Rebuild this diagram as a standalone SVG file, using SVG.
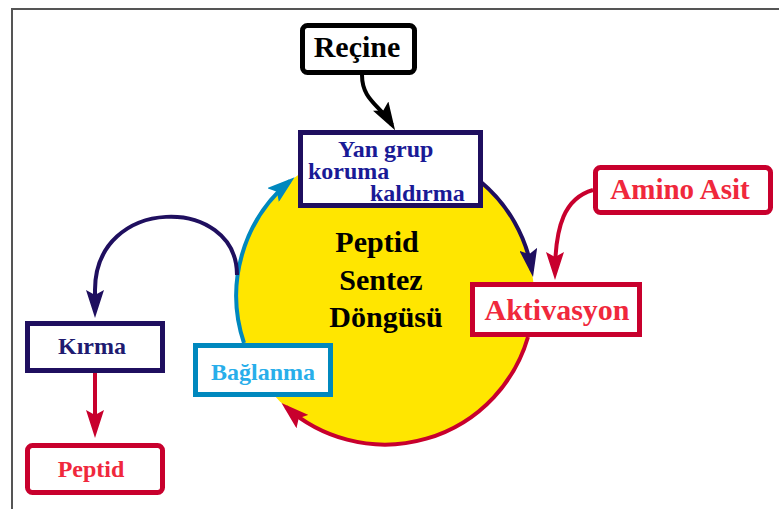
<svg xmlns="http://www.w3.org/2000/svg" width="779" height="509" viewBox="0 0 779 509">
<style>
text{font-family:"Liberation Serif","Times New Roman",serif;font-weight:bold}
.box{fill:#fff;stroke-width:5}
.navy{stroke:#1F0F5F}
.red{stroke:#C8002D}
.cyan{stroke:#0088BE}
.blk{stroke:#000}
.c{fill:none;stroke-width:4}
.mid{text-anchor:middle}
</style>
<defs>
<marker id="aN" markerUnits="userSpaceOnUse" markerWidth="28" markerHeight="18" refX="22" refY="9" orient="auto"><path d="M0,0 L28,9 L0,18 L5,9 z" fill="#1F0F5F"/></marker>
<marker id="aR" markerUnits="userSpaceOnUse" markerWidth="28" markerHeight="18" refX="22" refY="9" orient="auto"><path d="M0,0 L28,9 L0,18 L5,9 z" fill="#C8002D"/></marker>
<marker id="aC" markerUnits="userSpaceOnUse" markerWidth="28" markerHeight="18" refX="22" refY="9" orient="auto"><path d="M0,0 L28,9 L0,18 L5,9 z" fill="#0088BE"/></marker>
<marker id="aK" markerUnits="userSpaceOnUse" markerWidth="28" markerHeight="18" refX="22" refY="9" orient="auto"><path d="M0,0 L28,9 L0,18 L5,9 z" fill="#000"/></marker>
</defs>
<path d="M12,509 V9 H779" fill="none" stroke="#555" stroke-width="2"/>
<g id="cycle">
<circle cx="385" cy="296" r="149" fill="#FFE600"/>
<text x="377" y="252" class="mid" font-size="30" fill="#000">Peptid</text>
<text x="381" y="290" class="mid" font-size="30" fill="#000">Sentez</text>
<text x="386" y="327" class="mid" font-size="30" fill="#000">Döngüsü</text>
</g>
<g id="connectors">
<path class="c blk" stroke-width="5" d="M362,75 C362,100 380,105 392,125" marker-end="url(#aK)"/>
<path class="c navy" d="M481,182 A149,149 0 0 1 532,271" marker-end="url(#aN)"/>
<path class="c red" d="M593,190 C565,198 555,225 555,274" marker-end="url(#aR)"/>
<path class="c red" d="M528,337 A149,149 0 0 1 286,407" marker-end="url(#aR)"/>
<path class="c cyan" d="M244,343 A149,149 0 0 1 290,181" marker-end="url(#aC)"/>
<path class="c navy" d="M237,275 C237,195 95,195 95,290 L95,312" marker-end="url(#aN)"/>
<path class="c red" d="M95,373 L95,432" marker-end="url(#aR)"/>
</g>
<g id="recine">
<rect class="box blk" x="302.5" y="25.5" width="112" height="47" rx="5"/>
<text x="357" y="57" class="mid" font-size="30" fill="#000">Reçine</text>
</g>
<g id="yangrup">
<rect class="box navy" x="300.5" y="132.5" width="180" height="73"/>
<text x="338" y="157" font-size="24" fill="#1A1A96">Yan grup</text>
<text x="308" y="179" font-size="24" fill="#1A1A96">koruma</text>
<text x="370" y="201" font-size="24" fill="#1A1A96">kaldırma</text>
</g>
<g id="aminoasit">
<rect class="box red" x="595.5" y="167.5" width="175" height="45" rx="5"/>
<text x="680" y="199" class="mid" font-size="29" fill="#F0283C">Amino Asit</text>
</g>
<g id="aktivasyon">
<rect class="box red" x="472.5" y="284.5" width="167" height="50"/>
<text x="557" y="320" class="mid" font-size="30" fill="#F0283C">Aktivasyon</text>
</g>
<g id="baglanma">
<rect class="box cyan" x="195.5" y="345.5" width="135" height="49"/>
<text x="263" y="380" class="mid" font-size="24" fill="#28AEEA">Bağlanma</text>
</g>
<g id="kirma">
<rect class="box navy" x="27.5" y="323.5" width="135" height="47"/>
<text x="92" y="354" class="mid" font-size="24" fill="#201A70">Kırma</text>
</g>
<g id="peptid">
<rect class="box red" x="27.5" y="445.5" width="135" height="47" rx="5"/>
<text x="91" y="477" class="mid" font-size="24" fill="#F0283C">Peptid</text>
</g>
</svg>
